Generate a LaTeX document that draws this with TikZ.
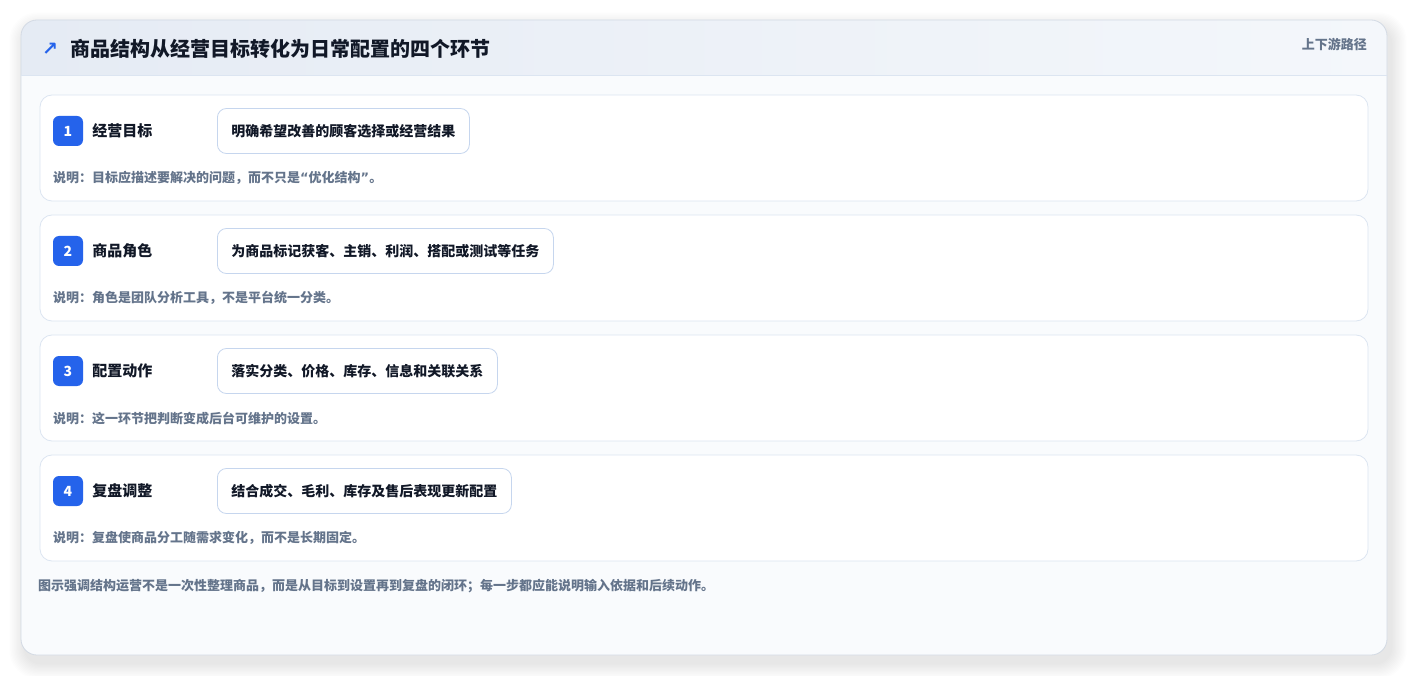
\documentclass[tikz,border=0pt]{standalone}
\usepackage{fontspec}
\setmainfont{Noto Sans CJK SC}
\newfontfamily\symfont{DejaVu Sans}
\usetikzlibrary{positioning}
\definecolor{stepblue}{HTML}{2563EB}
\definecolor{inkdark}{HTML}{111827}
\definecolor{inkgray}{HTML}{64748B}
\definecolor{cardline}{HTML}{DCE5F1}
\definecolor{pillline}{HTML}{C6D6EE}
\definecolor{headleft}{HTML}{E5EBF4}
\definecolor{headright}{HTML}{F4F7FB}
\definecolor{bodyfill}{HTML}{F9FBFD}
\definecolor{frameline}{HTML}{D3DAE4}

\begin{document}
\begin{tikzpicture}[x=1pt,y=-1pt,
  card/.style={draw=cardline, fill=white, line width=0.8pt, rounded corners=12pt,
    minimum width=1328pt, minimum height=106pt, inner sep=0pt},
  badge/.style={fill=stepblue, rounded corners=6pt, minimum size=30pt, inner sep=0pt,
    text=white, font=\bfseries\fontsize{14}{14}\selectfont},
  steptitle/.style={inner sep=0pt, text=inkdark, font=\bfseries\fontsize{15}{15}\selectfont},
  taskpill/.style={draw=pillline, fill=white, line width=0.8pt, rounded corners=9pt,
    minimum height=45pt, inner xsep=14pt, text=inkdark,
    font=\bfseries\fontsize{14}{14}\selectfont},
  notetext/.style={inner sep=0pt, text=inkgray, font=\bfseries\fontsize{13}{13}\selectfont}]
  \useasboundingbox (0,0) rectangle (1408,676);
  \fill[white] (0,0) rectangle (1408,676);

  % soft shadow of the frame
  \foreach \s in {1,...,12}
    \fill[black, opacity=0.008, rounded corners=16pt+\s pt]
      (21+4-\s*1.3,20+8-\s*1.3) rectangle (1387+4+\s*1.3,655+8+\s*1.3);

  % outer frame and header band
  \fill[bodyfill, rounded corners=16pt] (21,20) rectangle (1387,655);
  \begin{scope}
    \clip[rounded corners=16pt] (21,20) rectangle (1387,655);
    \shade[left color=headleft, right color=headright] (21,20) rectangle (1387,75);
  \end{scope}
  \draw[frameline, line width=0.8pt, rounded corners=16pt] (21,20) rectangle (1387,655);
  \draw[cardline, line width=0.8pt] (21,75) -- (1387,75);
  \node[text=stepblue, font=\symfont\bfseries\fontsize{19}{19}\selectfont, inner sep=0pt] (icon) at (50,49) {↗};
  \node[steptitle, font=\bfseries\fontsize{20}{20}\selectfont, anchor=west] (heading) at (70,49)
    {商品结构从经营目标转化为日常配置的四个环节};
  \node[notetext, anchor=east] (pathtag) at (1367,44) {上下游路径};

  % four steps
  \foreach \i/\name/\task/\note in {
    1/经营目标/明确希望改善的顾客选择或经营结果/说明：目标应描述要解决的问题，而不只是{\symfont“}优化结构{\symfont”}。,
    2/商品角色/为商品标记获客、主销、利润、搭配或测试等任务/说明：角色是团队分析工具，不是平台统一分类。,
    3/配置动作/落实分类、价格、库存、信息和关联关系/说明：这一环节把判断变成后台可维护的设置。,
    4/复盘调整/结合成交、毛利、库存及售后表现更新配置/说明：复盘使商品分工随需求变化，而不是长期固定。}
  {
    \node[card] (card\i) at (704,148+120*\i-120) {};
    \node[badge] (badge\i) at (68,131+120*\i-120) {\i};
    \node[steptitle, right=9pt of badge\i] (title\i) {\name};
    \node[taskpill, anchor=west] (pill\i) at (217,131+120*\i-120) {\task};
    \node[notetext, anchor=west] (note\i) at (53,178+120*\i-120) {\note};
  }

  \node[notetext, anchor=west] (footer) at (38,586)
    {图示强调结构运营不是一次性整理商品，而是从目标到设置再到复盘的闭环；每一步都应能说明输入依据和后续动作。};
\end{tikzpicture}
\end{document}
